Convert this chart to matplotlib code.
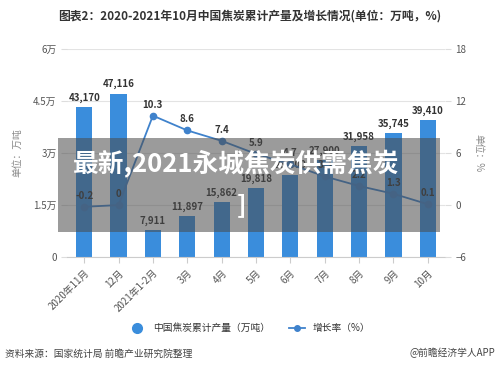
import matplotlib
matplotlib.use('Agg')
import matplotlib.pyplot as plt
from matplotlib.patches import Rectangle
from matplotlib.lines import Line2D

plt.rcParams['font.family'] = ['Noto Sans CJK SC', 'DejaVu Sans']

# data (6月-8月 partly hidden, estimated)
months = ['2020年11月', '12月', '2021年1-2月', '3月', '4月', '5月', '6月', '7月', '8月', '9月', '10月']
output = [43170, 47116, 7911, 11897, 15862, 19818, 23800, 27900, 31958, 35745, 39410]
growth = [-0.2, 0, 10.3, 8.6, 7.4, 5.9, 4.7, 3.3, 2.2, 1.3, 0.1]

bar_col = '#3a8ddc'
line_col = '#3f82cc'
txt_col = '#555555'

fig = plt.figure(figsize=(5, 3.7), dpi=100)
ax = fig.add_axes([0.134, 0.305, 0.756, 0.563])
x = list(range(len(months)))

ax.bar(x, output, width=0.47, color=bar_col, zorder=2)
for i, v in enumerate(output):
    ax.text(i, v + 1200, f'{v:,}', ha='center', va='bottom', fontsize=7,
            fontweight='bold', color='#333333', zorder=5)

ax.set_xlim(-0.5, len(months) - 0.5)
ax.set_ylim(0, 60000)
ax.set_yticks([0, 15000, 30000, 45000, 60000])
ax.set_yticklabels(['0', '1.5万', '3万', '4.5万', '6万'])
ax.set_xticks(x)
ax.set_xticklabels(months, rotation=45, ha='right', rotation_mode='anchor')
ax.grid(axis='y', color='#e3e3e3', lw=0.8, zorder=0)
for s in ['top', 'right', 'left']:
    ax.spines[s].set_visible(False)
ax.spines['bottom'].set_color('#cccccc')
ax.tick_params(axis='y', length=4, color='#dddddd', labelsize=7, labelcolor=txt_col)
ax.tick_params(axis='x', length=4, color='#cccccc', labelsize=7, labelcolor=txt_col)
ax.set_ylabel('单位：万吨', fontsize=7, color='#888888', labelpad=8)

ax2 = ax.twinx()
ax2.plot(x, growth, color=line_col, lw=1.3, marker='o', ms=4.5, zorder=4)
for i, v in enumerate(growth):
    ax2.text(i, v + 0.7, f'{v:g}', ha='center', va='bottom', fontsize=7,
             fontweight='bold', color='#333333', zorder=5)
ax2.set_ylim(-6, 18)
ax2.set_yticks([-6, 0, 6, 12, 18])
for s in ['top', 'right', 'left', 'bottom']:
    ax2.spines[s].set_visible(False)
ax2.tick_params(axis='y', length=4, color='#dddddd', labelsize=7, labelcolor=txt_col)
ax2.set_ylabel('单位：%', fontsize=7, color='#888888', rotation=270, labelpad=12)

fig.text(0.5, 0.957, '图表2：2020-2021年10月中国焦炭累计产量及增长情况(单位：万吨，%)',
         ha='center', va='center', fontsize=8.5, fontweight='bold', color='#333333')

handles = [Line2D([], [], color=bar_col, marker='o', ls='none', ms=7),
           Line2D([], [], color=line_col, marker='o', ms=4, lw=1.3)]
fig.legend(handles, ['中国焦炭累计产量（万吨）', '增长率（%）'], loc='center',
           bbox_to_anchor=(0.5, 0.113), ncol=2, frameon=False, fontsize=7,
           labelcolor='#333333', handlelength=1.6, columnspacing=2)

fig.text(0.01, 0.045, '资料来源：国家统计局 前瞻产业研究院整理', fontsize=7,
         color='#444444', va='center')
fig.text(0.99, 0.045, '@前瞻经济学人APP', fontsize=7, color='#444444',
         va='center', ha='right')

# grey banner laid over the chart
fig.add_artist(Rectangle((0.116, 0.373), 0.764, 0.254, transform=fig.transFigure,
                         facecolor='#4a4a4a', alpha=0.55, edgecolor='none', zorder=10))
fig.text(0.145, 0.555, '最新,2021永城焦炭供需焦炭', fontsize=18.5, fontweight='bold',
         color='white', va='center', zorder=11)
fig.text(0.474, 0.445, ']', fontsize=18, fontweight='bold', color='white',
         va='center', zorder=11)

fig.savefig('out.png', dpi=100)
